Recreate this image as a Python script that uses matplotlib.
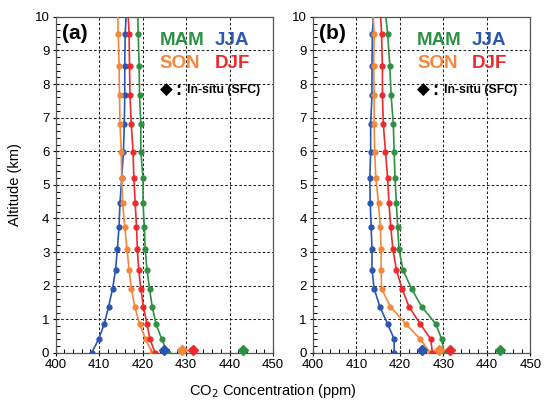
import matplotlib.pyplot as plt
from matplotlib.ticker import MultipleLocator

plt.rcParams['font.family'] = ['Liberation Sans', 'DejaVu Sans']

# altitude levels (km); last level is the top of the profile, drawn without a marker
alt = [0.0, 0.41, 0.86, 1.38, 1.91, 2.48, 3.10, 3.76, 4.46, 5.19, 5.99, 6.82, 7.66, 8.55, 9.49, 10.0]

# (a) seasonal mean profiles
a_mam = [425.8, 424.4, 423.1, 422.2, 421.6, 421.0, 420.6, 420.4, 420.1, 420.1, 419.6, 419.6, 419.3, 419.2, 419.0, 418.9]
a_jja = [408.3, 409.9, 411.2, 412.2, 413.1, 413.8, 414.2, 414.6, 414.8, 415.2, 415.6, 415.8, 415.9, 415.9, 416.0, 416.2]
a_son = [422.2, 420.7, 419.3, 418.2, 417.4, 416.9, 416.4, 415.9, 415.4, 415.2, 415.1, 414.8, 414.7, 414.6, 414.4, 414.3]
a_djf = [422.9, 421.7, 421.0, 420.2, 419.6, 419.1, 418.8, 418.6, 418.3, 418.0, 417.8, 417.4, 417.1, 417.0, 416.9, 416.7]

# (b)
b_mam = [430.2, 429.6, 428.3, 425.0, 422.7, 420.7, 419.8, 419.5, 419.2, 418.9, 418.7, 418.5, 418.0, 417.7, 417.2, 416.8]
b_jja = [418.7, 418.7, 417.2, 415.4, 414.1, 413.6, 413.6, 413.4, 413.2, 413.1, 413.3, 413.3, 413.6, 413.6, 413.7, 413.9]
b_son = [427.0, 424.7, 421.4, 417.8, 415.8, 415.7, 415.7, 415.5, 415.1, 414.5, 414.2, 414.1, 414.1, 414.0, 414.1, 413.9]
b_djf = [427.5, 427.1, 424.7, 422.1, 420.5, 419.2, 418.4, 417.9, 417.5, 417.2, 416.7, 416.2, 416.0, 416.0, 415.8, 415.6]

# surface in-situ seasonal means
sfc_alt = 0.1
sfc = {'MAM': 443.1, 'JJA': 425.0, 'SON': 429.0, 'DJF': 431.5}

colors = {'MAM': '#2e9043', 'JJA': '#2a56b4', 'SON': '#f5873a', 'DJF': '#ec2a2c'}

panels = [
    ('(a)', {'MAM': a_mam, 'JJA': a_jja, 'SON': a_son, 'DJF': a_djf}),
    ('(b)', {'MAM': b_mam, 'JJA': b_jja, 'SON': b_son, 'DJF': b_djf}),
]

fig = plt.figure(figsize=(5.45, 4.01), dpi=100)
lefts = [0.102, 0.574]

for (label, prof), left in zip(panels, lefts):
    ax = fig.add_axes([left, 0.120, 0.399, 0.838])
    for s in ['JJA', 'SON', 'DJF', 'MAM']:
        ax.plot(prof[s], alt, color=colors[s], lw=1.2, marker='o', ms=3.5,
                markevery=list(range(len(alt) - 1)), clip_on=True, zorder=3)
    for s in ['JJA', 'SON', 'DJF', 'MAM']:
        ax.plot(sfc[s], sfc_alt, marker='D', ms=5, color=colors[s],
                ls='none', clip_on=False, zorder=4)

    ax.set_xlim(400, 450)
    ax.set_ylim(0, 10)
    ax.xaxis.set_major_locator(MultipleLocator(10))
    ax.xaxis.set_minor_locator(MultipleLocator(2))
    ax.yaxis.set_major_locator(MultipleLocator(1))
    ax.yaxis.set_minor_locator(MultipleLocator(0.2))
    ax.tick_params(which='major', direction='inout', length=5, width=0.8, labelsize=9.5, pad=2)
    ax.tick_params(which='minor', direction='in', length=3, width=0.7)
    ax.grid(True, which='major', color='#222222', ls=(0, (2.5, 2)), lw=0.75)
    for sp in ax.spines.values():
        sp.set_color('#555555')
        sp.set_linewidth(0.9)

    ax.text(401.5, 9.5, label, fontsize=15, fontweight='bold', va='center', ha='left')
    ax.text(424.0, 9.3, 'MAM', color=colors['MAM'], fontsize=13.5, fontweight='bold', va='center')
    ax.text(436.6, 9.3, 'JJA', color=colors['JJA'], fontsize=13.5, fontweight='bold', va='center')
    ax.text(424.0, 8.62, 'SON', color=colors['SON'], fontsize=13.5, fontweight='bold', va='center')
    ax.text(436.6, 8.62, 'DJF', color=colors['DJF'], fontsize=13.5, fontweight='bold', va='center')
    ax.text(423.9, 7.82, '\u25c6', fontsize=12, va='center', family=['DejaVu Sans'])
    ax.text(427.4, 7.80, ':', fontsize=13, fontweight='bold', va='center')
    ax.text(430.2, 7.82, 'In-situ (SFC)', fontsize=8.8, fontweight='bold', va='center')

fig.text(0.50, 0.025, 'CO$_2$ Concentration (ppm)', ha='center', va='center', fontsize=10.5)
fig.text(0.028, 0.54, 'Altitude (km)', ha='center', va='center', rotation=90, fontsize=10.5)

fig.savefig('out.png', dpi=100)
